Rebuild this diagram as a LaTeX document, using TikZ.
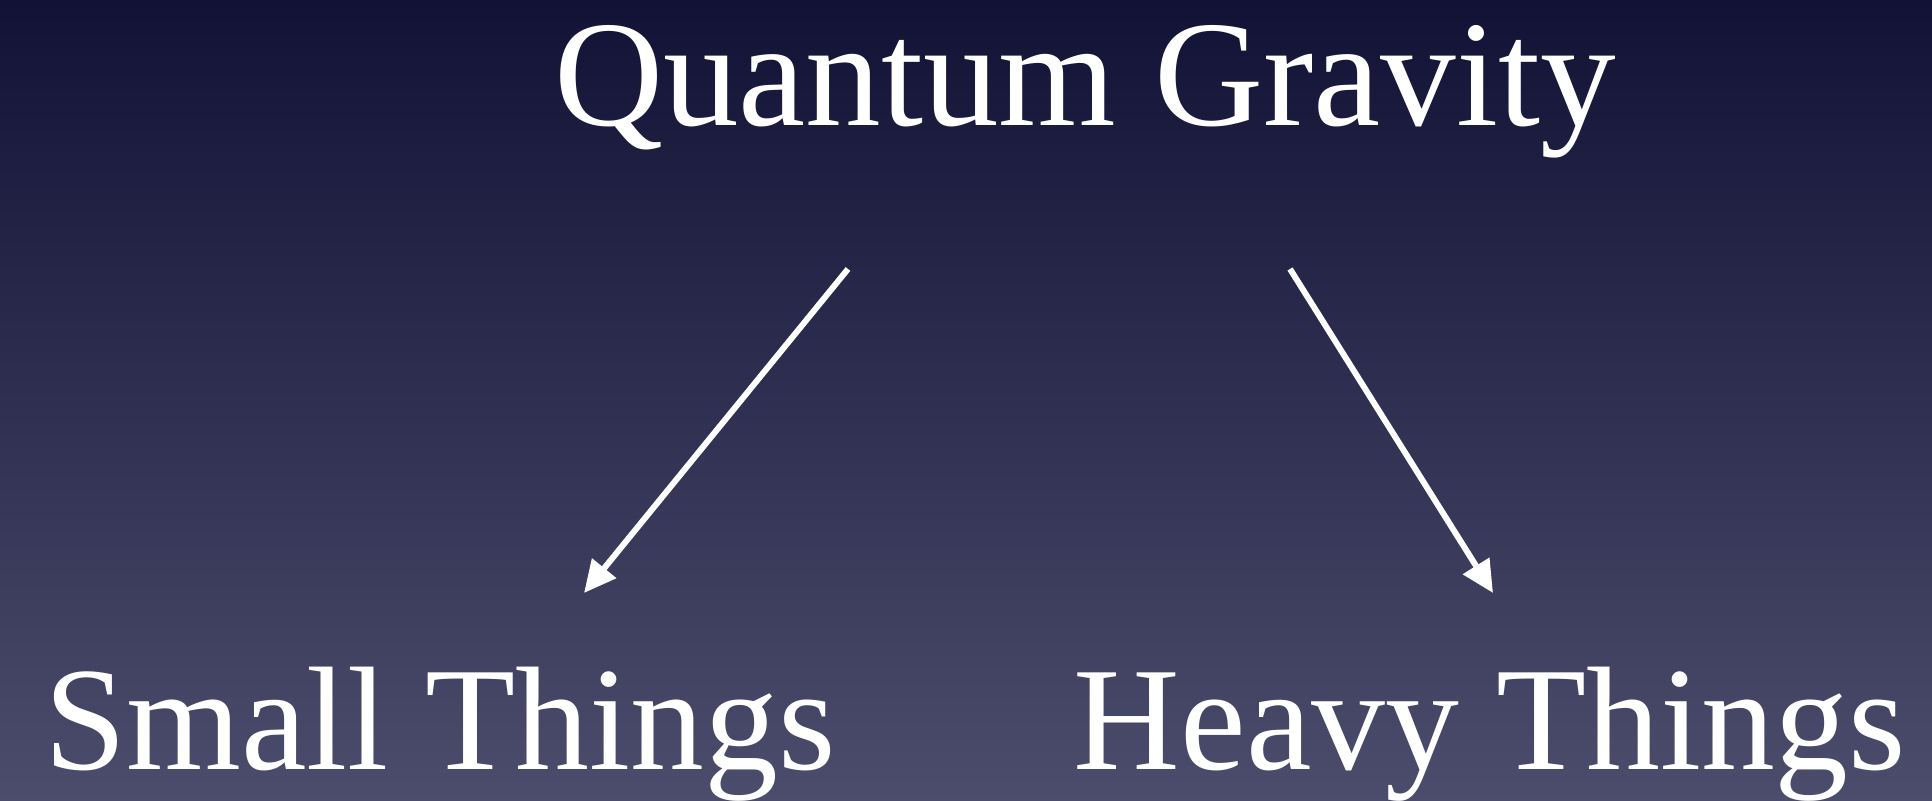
\documentclass[tikz,border=0pt]{standalone}
\usepackage{fontspec}
\setmainfont{Liberation Serif}
\usetikzlibrary{arrows.meta, positioning}

\definecolor{skytop}{RGB}{18,18,54}
\definecolor{skybottom}{RGB}{76,76,108}

\begin{document}
\begin{tikzpicture}[
    topic/.style={text=white, inner sep=0pt, anchor=base, font=\fontsize{42}{50}\selectfont},
    branch/.style={draw=white, line width=1.7pt, -{Triangle[length=3.2mm, width=3mm]}}
]

    % 背景渐变 (同时固定画面大小)
    \shade[top color=skytop, bottom color=skybottom] (0,0) rectangle (19.32,8.01);
    \useasboundingbox (0,0) rectangle (19.32,8.01);

    % 1. 三个主题
    \node[topic, font=\fontsize{43}{50}\selectfont] (QG) at (10.85, 6.75) {Quantum Gravity};
    \node[topic] (ST) at (4.40, 0.31) {Small Things};
    \node[topic] (HT) at (14.90, 0.31) {Heavy Things};

    % 2. 箭头端点
    \coordinate (QGleft)  at (8.48, 5.32);
    \coordinate (QGright) at (12.90, 5.32);
    \coordinate (STtip)   at (5.84, 2.08);
    \coordinate (HTtip)   at (14.93, 2.08);

    % 3. 分支箭头
    \draw[branch] (QGleft) -- (STtip);
    \draw[branch] (QGright) -- (HTtip);

\end{tikzpicture}
\end{document}
